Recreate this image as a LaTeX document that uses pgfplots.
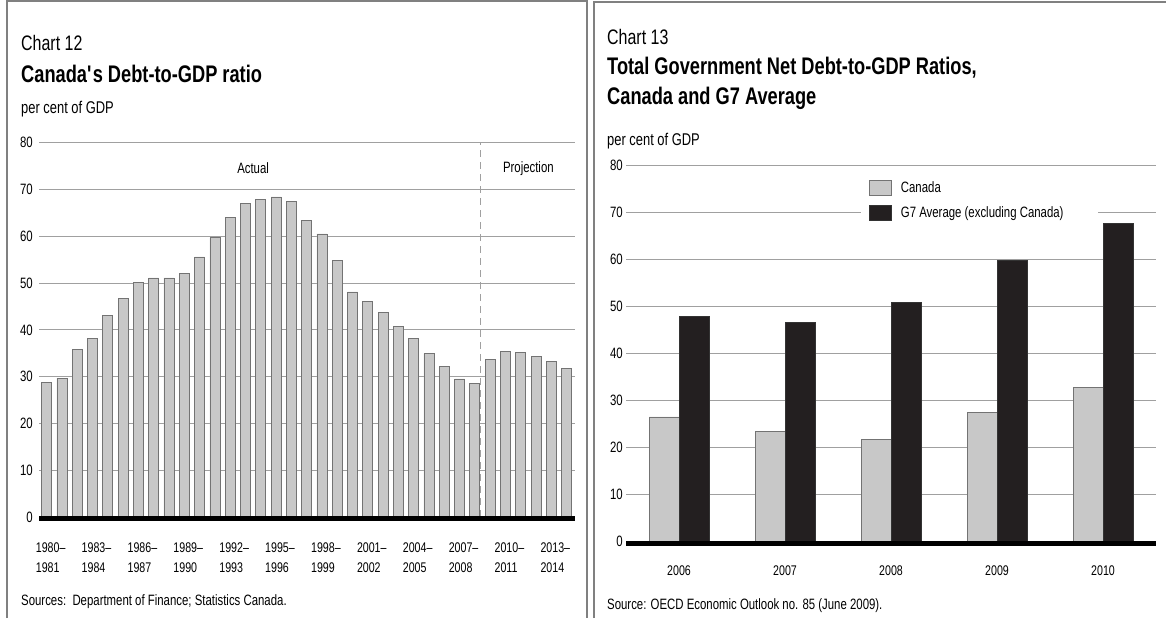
\documentclass[border=0pt]{standalone}
\usepackage{fontspec}
\setmainfont{Liberation Sans}[FakeStretch=0.76]
\usepackage{pgfplots}
\pgfplotsset{compat=1.18}
\definecolor{barlight}{HTML}{C8C8C8}
\definecolor{bardark}{HTML}{231F20}
\definecolor{gridc}{HTML}{A0A0A0}
\definecolor{framec}{HTML}{808080}
\newcommand\fs[1]{\fontsize{#1}{#1}\selectfont}
\begin{document}
\begin{tikzpicture}
\useasboundingbox (0pt,0pt) rectangle (1166pt,618pt);
% panel frames
\draw[framec, line width=1.2pt] (7pt,0pt) -- (7pt,617pt) -- (587pt,617pt) -- (587pt,0pt);
\draw[framec, line width=1.2pt] (594pt,0pt) -- (594pt,616pt) -- (1166pt,616pt);
% left texts
\node[anchor=base west, inner sep=0pt, font=\fs{21}] at (21pt,567pt) {Chart 12};
\node[anchor=base west, inner sep=0pt, font=\bfseries\fs{24}] at (21pt,535pt) {Canada\textquotesingle s Debt-to-GDP ratio};
\node[anchor=base west, inner sep=0pt, font=\fs{17}] at (21pt,504pt) {per cent of GDP};
\node[anchor=base west, inner sep=0pt, font=\fs{15}] at (21pt,12.5pt) {Sources:\ \ Department of Finance; Statistics Canada.};
% right texts
\node[anchor=base west, inner sep=0pt, font=\fs{21}] at (607pt,573pt) {Chart 13};
\node[anchor=base west, inner sep=0pt, font=\bfseries\fs{24}] at (607pt,543pt) {Total Government Net Debt-to-GDP Ratios,};
\node[anchor=base west, inner sep=0pt, font=\bfseries\fs{24}] at (607pt,513pt) {Canada and G7 Average};
\node[anchor=base west, inner sep=0pt, font=\fs{17}] at (607pt,472pt) {per cent of GDP};
\node[anchor=base west, inner sep=0pt, font=\fs{15}] at (607pt,9pt) {Source: OECD Economic Outlook no. 85 (June 2009).};

% ---------- Chart 12 ----------
\begin{axis}[
  at={(39pt,101pt)}, anchor=south west, scale only axis,
  width=536pt, height=374.3pt,
  xmin=-0.5, xmax=34.55, ymin=0, ymax=80,
  axis line style={draw=none}, major tick length=0pt,
  ytick={0,10,...,80}, ymajorgrids, grid style={gridc, line width=0.9pt},
  /pgf/number format/assume math mode=true,
  yticklabel style={font=\fs{15}, inner sep=0pt, xshift=-6pt},
  xtick={0,3,...,33},
  xticklabels={{1980--\\1981},{1983--\\1984},{1986--\\1987},{1989--\\1990},{1992--\\1993},{1995--\\1996},{1998--\\1999},{2001--\\2002},{2004--\\2005},{2007--\\2008},{2010--\\2011},{2013--\\2014}},
  xticklabel style={font=\fontsize{14}{20}\selectfont, align=left, inner sep=0pt, anchor=north, yshift=-26pt, xshift=4pt},
  ybar, bar width=10pt, clip=false,
]
\addplot[fill=barlight, draw=black!55, line width=0.7pt] coordinates {
(0,28.8) (1,29.7) (2,35.8) (3,38.1) (4,43.0) (5,46.8) (6,50.2) (7,51.1) (8,51.1) (9,52.0)
(10,55.6) (11,59.7) (12,64.1) (13,67.1) (14,67.9) (15,68.4) (16,67.4) (17,63.4) (18,60.5) (19,54.9)
(20,48.1) (21,46.0) (22,43.7) (23,40.7) (24,38.1) (25,34.9) (26,32.1) (27,29.5) (28,28.6) (29,33.7)
(30,35.4) (31,35.1) (32,34.4) (33,33.3) (34,31.8)};
\draw[gridc, line width=0.9pt, dash pattern=on 7pt off 5pt] (axis cs:28.38,0) -- (axis cs:28.38,80);
\draw[black, line width=5pt] ([yshift=-1.5pt]axis cs:-0.5,0) -- ([yshift=-1.5pt]axis cs:34.55,0);
\node[font=\fs{15}] at (axis cs:13.5,74.5) {Actual};
\node[font=\fs{15}] at (axis cs:31.5,74.5) {Projection};
\end{axis}

% ---------- Chart 13 ----------
\begin{axis}[
  at={(626pt,76.3pt)}, anchor=south west, scale only axis,
  width=530pt, height=376.7pt,
  xmin=-0.5, xmax=4.5, ymin=0, ymax=80,
  axis line style={draw=none}, major tick length=0pt,
  ytick={0,10,...,80}, ymajorgrids, grid style={gridc, line width=0.9pt},
  /pgf/number format/assume math mode=true,
  yticklabel style={font=\fs{15}, inner sep=0pt, xshift=-3pt},
  xtick={0,1,2,3,4}, xticklabels={2006,2007,2008,2009,2010},
  xticklabel style={font=\fs{14}, inner sep=0pt, anchor=north, yshift=-24pt},
  ybar=0pt, bar width=30pt, clip=false,
  legend style={at={(0.4434,0.9708)}, anchor=north west, draw=none, fill=white,
    inner xsep=8pt, inner ysep=3pt, row sep=9pt, font=\fs{15},
    cells={anchor=west}},
  legend image code/.code={\draw[#1] (0pt,-7.5pt) rectangle (22pt,7.5pt); \path (29pt,0pt);},
]
\addplot[fill=barlight, draw=black!55, line width=0.7pt] coordinates {
(0,26.5) (1,23.5) (2,21.7) (3,27.4) (4,32.8)};
\addplot[fill=bardark, draw=black!80, line width=0.7pt] coordinates {
(0,47.8) (1,46.6) (2,50.8) (3,59.8) (4,67.6)};
\legend{Canada, G7 Average (excluding Canada)\hspace*{24pt}}
\draw[black, line width=5pt] ([yshift=-1.5pt]axis cs:-0.5,0) -- ([yshift=-1.5pt]axis cs:4.5,0);
\end{axis}
\end{tikzpicture}
\end{document}
